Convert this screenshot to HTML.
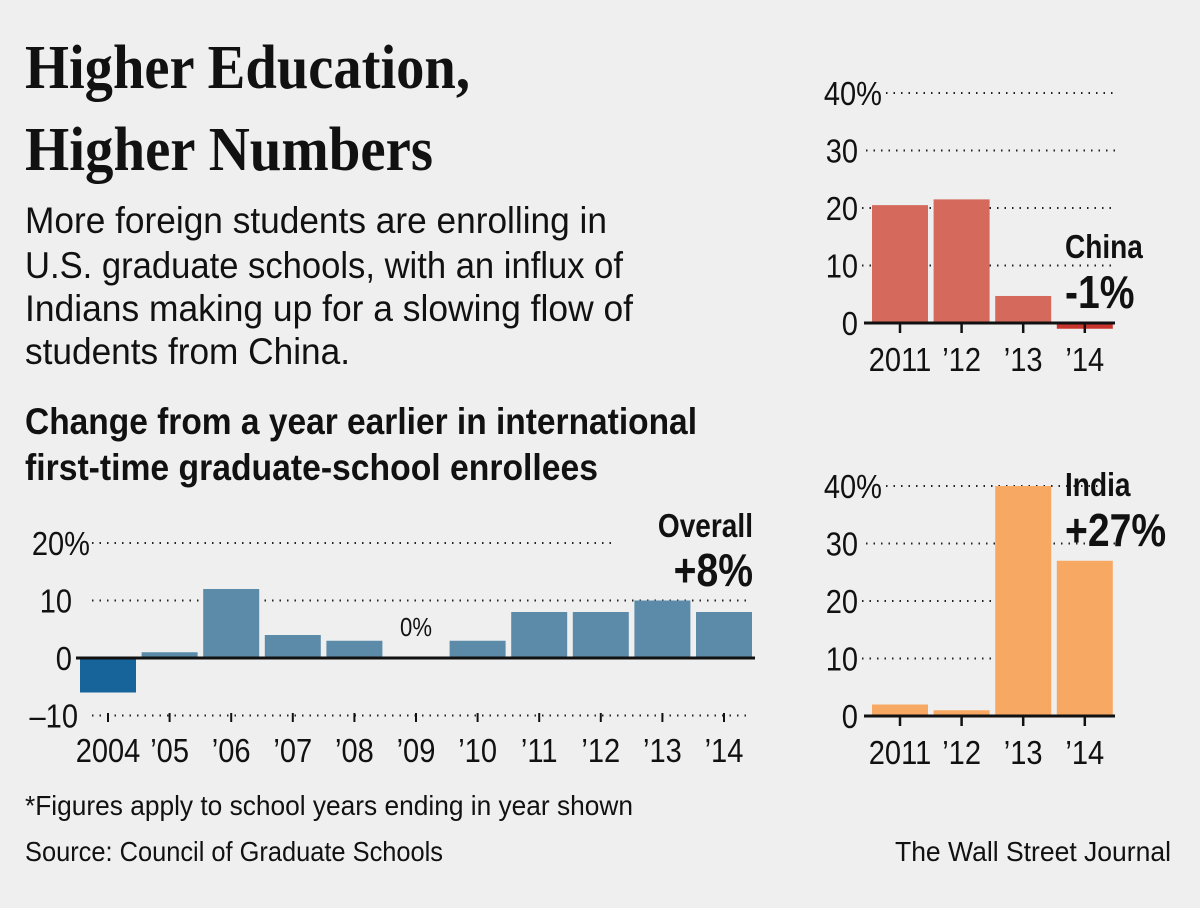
<!DOCTYPE html>
<html><head><meta charset="utf-8"><style>
html,body{margin:0;padding:0;background:#efefef;}
svg{display:block;}
text{font-family:"Liberation Sans Narrow","Liberation Sans",sans-serif;fill:#111;}
.serif{font-family:"Liberation Serif",serif;font-weight:bold;}
.grid{stroke:#222;stroke-width:2;stroke-dasharray:1.5 6;}
</style></head><body>
<svg id="svg" width="1200" height="908" viewBox="0 0 1200 908">
<rect width="1200" height="908" fill="#efefef"/>
<text class="serif" x="25" y="88" font-size="62" textLength="445" lengthAdjust="spacingAndGlyphs">Higher Education,</text>
<text class="serif" x="25" y="170" font-size="62" textLength="408" lengthAdjust="spacingAndGlyphs">Higher Numbers</text>
<g font-size="37">
<text x="25" y="233" textLength="582" lengthAdjust="spacingAndGlyphs">More foreign students are enrolling in</text>
<text x="25" y="278" textLength="598" lengthAdjust="spacingAndGlyphs">U.S. graduate schools, with an influx of</text>
<text x="25" y="321" textLength="608" lengthAdjust="spacingAndGlyphs">Indians making up for a slowing flow of</text>
<text x="25" y="364" textLength="325" lengthAdjust="spacingAndGlyphs">students from China.</text>
</g>
<g font-size="37" font-weight="bold">
<text x="25" y="434" textLength="672" lengthAdjust="spacingAndGlyphs">Change from a year earlier in international</text>
<text x="25" y="480" textLength="573" lengthAdjust="spacingAndGlyphs">first-time graduate-school enrollees</text>
</g>
<text x="25" y="815" font-size="28" textLength="608" lengthAdjust="spacingAndGlyphs">*Figures apply to school years ending in year shown</text>
<text x="25" y="861" font-size="28" textLength="418" lengthAdjust="spacingAndGlyphs">Source: Council of Graduate Schools</text>
<text x="1171" y="861" font-size="28" text-anchor="end" textLength="276" lengthAdjust="spacingAndGlyphs">The Wall Street Journal</text>
<g id="main"></g><g id="china"></g><g id="india"></g>
</svg>
<script>
const mainCats = ["2004","\u201905","\u201906","\u201907","\u201908","\u201909","\u201910","\u201911","\u201912","\u201913","\u201914"];
const mainVals = [-6,1,12,4,3,0,3,8,8,10,8];
const mainTicks = [-10,0,10,20];
const chinaCats = ["2011","\u201912","\u201913","\u201914"];
const chinaVals = [20.5,21.5,4.7,-1];
const indiaCats = ["2011","\u201912","\u201913","\u201914"];
const indiaVals = [2,1,40,27];
const smallTicks = [0,10,20,30,40];
const NS="http://www.w3.org/2000/svg";
function mk(parent,tag,attrs,txt){const e=document.createElementNS(NS,tag);for(const k in attrs)e.setAttribute(k,attrs[k]);if(txt!==undefined)e.textContent=txt;parent.appendChild(e);return e;}
function condense(el,f){try{const w=el.getComputedTextLength();el.setAttribute('textLength',(w*f).toFixed(1));el.setAttribute('lengthAdjust','spacingAndGlyphs');}catch(e){}return el;}
function tickLabel(t,arr){return (t===arr[arr.length-1]?t+"%":(t<0?"\u2013"+(-t):""+t));}

(function(){
const g=document.getElementById('main');
const y0=658, pxPer=5.75, x0=80, step=61.6, bw=56;
const y=v=>y0-v*pxPer;
const x=i=>x0+i*step;
mainTicks.forEach(t=>{
  if(t!==0){const l=mk(g,'line',{x1:92,x2:t===20?615:752,y1:y(t),y2:y(t),class:'grid'});
  
  }
  const tx=mk(g,'text',{x:t===20?90:(t===-10?78:72),y:y(t)+12,'font-size':33,'text-anchor':'end'},tickLabel(t,mainTicks));
  
  
  condense(tx,0.88);
});
mainVals.forEach((v,i)=>{
  const r=mk(g,'rect',{x:x(i),y:Math.min(y(v),y0),width:bw,height:Math.abs(y(v)-y0),fill:v<0?'#17649a':'#5b8ba9'});
  
  
  const tk=mk(g,'line',{x1:x(i)+bw/2,x2:x(i)+bw/2,y1:713,y2:722,stroke:'#111','stroke-width':2});
  
  
  const lb=mk(g,'text',{x:x(i)+bw/2,y:762,'font-size':33,'text-anchor':'middle'},mainCats[i]);
  
  
  condense(lb,0.88);
  if(v===0){const z=mk(g,'text',{x:x(i)+bw/2,y:y0-22,'font-size':26,'text-anchor':'middle'},'0%');
  
  
  condense(z,0.85);}
});
const ax=mk(g,'line',{x1:76,x2:755,y1:y0,y2:y0,stroke:'#111','stroke-width':3});


const a1=mk(g,'text',{x:753,y:537,'font-size':33,'font-weight':'bold','text-anchor':'end'},'Overall');


condense(a1,0.85);
const a2=mk(g,'text',{x:753,y:586,'font-size':46,'font-weight':'bold','text-anchor':'end'},'+'+mainVals[mainVals.length-1]+'%');


condense(a2,0.85);
})();

function small(id,cats,vals,y0,colors,name,annY){
const g=document.getElementById(id);
const pxPer=5.75,x0=872,step=61.6,bw=56;
const y=v=>y0-v*pxPer;const x=i=>x0+i*step;
smallTicks.forEach(t=>{
  if(t!==0){
    let x1=t===40?886:(t===30?866:862);
    const l=mk(g,'line',{x1:x1,x2:1115,y1:y(t),y2:y(t),class:'grid'});
    
    
  }
  const tx=mk(g,'text',{x:t===40?882:858,y:y(t)+12,'font-size':33,'text-anchor':'end'},t===40?'40%':''+t);
  
  
  condense(tx,0.88);
});
vals.forEach((v,i)=>{
  const r=mk(g,'rect',{x:x(i),y:Math.min(y(v),y0),width:bw,height:Math.max(Math.abs(y(v)-y0),1),fill:v<0?colors[1]:colors[0]});
  
  
  const tk=mk(g,'line',{x1:x(i)+bw/2,x2:x(i)+bw/2,y1:y0,y2:y0+10,stroke:'#111','stroke-width':2.5});
  
  
  const lb=mk(g,'text',{x:x(i)+bw/2,y:y0+48,'font-size':33,'text-anchor':'middle'},cats[i]);
  
  
  condense(lb,0.88);
});
const ax=mk(g,'line',{x1:864,x2:1115,y1:y0,y2:y0,stroke:'#111','stroke-width':3});


const v=vals[vals.length-1];
const a1=mk(g,'text',{x:1065,y:annY,'font-size':33,'font-weight':'bold'},name==='china'?'China':'India');


condense(a1,0.85);
const a2=mk(g,'text',{x:1065,y:annY+50,'font-size':46,'font-weight':'bold'},(v>0?'+':'')+v+'%');


condense(a2,0.85);
}
small('china',chinaCats,chinaVals,323,['#d4695c','#c9352d'],'china',258);
small('india',indiaCats,indiaVals,716,['#f7a964','#f7a964'],'india',496);
</script>
</body></html>
